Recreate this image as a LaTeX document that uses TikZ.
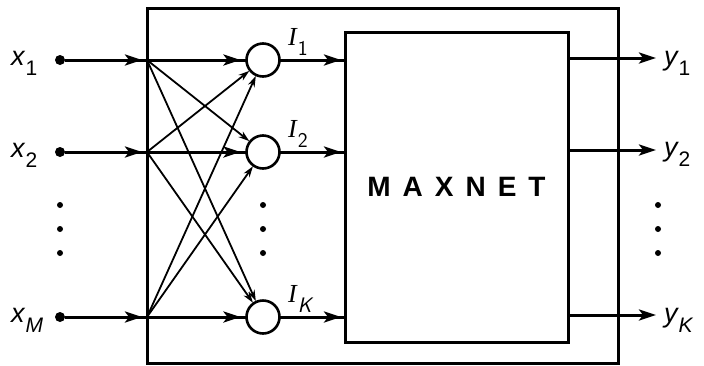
\documentclass[tikz,border=0pt]{standalone}
\usepackage{fontspec}
\setmainfont{Liberation Sans}
\newfontfamily\serifit{Liberation Serif}
\usetikzlibrary{arrows.meta}
\newcommand{\sbs}[1]{\hspace{1pt}\raisebox{-10pt}{\fontsize{21}{21}\selectfont #1}}
\begin{document}
\begin{tikzpicture}[x=1pt,y=-1pt,
  neuron/.style={draw, circle, line width=2.6pt, minimum size=33pt, inner sep=0pt, outer sep=0pt},
  box/.style={draw, line width=3pt, inner sep=0pt, outer sep=0pt, anchor=north west},
  src/.style={circle, fill, inner sep=0pt, minimum size=10pt},
  vdot/.style={circle, fill, inner sep=0pt, minimum size=6pt},
  main/.style={line width=3pt},
  tip/.style={line width=3pt, -{Stealth[length=17pt,width=11pt,inset=4pt]}},
  diag/.style={line width=1.8pt, -{Stealth[open,length=11pt,width=7pt]}, shorten >=1pt},
  lab/.style={font=\fontsize{27}{27}\selectfont\itshape, inner sep=0pt, anchor=base west},
  ilab/.style={font=\fontsize{26}{26}\selectfont\serifit\itshape, inner sep=0pt, anchor=base west},
]
\useasboundingbox (0,0) rectangle (704,365);
% boxes
\node[box, minimum width=471pt, minimum height=355pt] (outer) at (147,8) {};
\node[box, minimum width=223pt, minimum height=310pt] (maxnet) at (345,32)
  {\fontsize{28}{28}\selectfont\bfseries M\hspace{12pt}A\hspace{12pt}X\hspace{12pt}N\hspace{12pt}E\hspace{12pt}T};
% sources
\node[src] (d1) at (60,60) {};
\node[src] (d2) at (60,152) {};
\node[src] (dM) at (60,317) {};
\coordinate (j1) at (147,60);
\coordinate (j2) at (147,152);
\coordinate (jM) at (147,317);
% neurons
\node[neuron] (n1) at (263,60) {};
\node[neuron] (n2) at (263,152) {};
\node[neuron] (nK) at (263,317) {};
% labels
\node[lab] (lx1) at (11,65) {x\sbs{\upshape 1}};
\node[lab] (lx2) at (11,157) {x\sbs{\upshape 2}};
\node[lab] (lxM) at (11,322) {x\sbs{M}};
\node[ilab] (li1) at (288,45) {I\sbs{\sffamily\upshape 1}};
\node[ilab] (li2) at (288,137) {I\sbs{\sffamily\upshape 2}};
\node[ilab] (liK) at (288,302) {I\sbs{\sffamily K}};
\node[lab] (ly1) at (664,65) {y\sbs{\upshape 1}};
\node[lab] (ly2) at (664,156) {y\sbs{\upshape 2}};
\node[lab] (lyK) at (664,322) {y\sbs{K}};
% inputs
\foreach \d/\j in {d1/j1,d2/j2,dM/jM}{
  \draw[main] (\d) -- (\j);
  \draw[tip] (\d) -- ([xshift=-5pt]\j);
}
% straight to neurons
\foreach \j/\n in {j1/n1,j2/n2,jM/nK}{
  \draw[main] (\j) -- (\n);
  \draw[tip] (\j) -- ([xshift=-6pt]\n.west);
}
% cross connections
\draw[diag] (j1) -- (n2);
\draw[diag] (j1) -- (nK);
\draw[diag] (j2) -- (n1);
\draw[diag] (j2) -- (nK);
\draw[diag] (jM) -- (n1);
\draw[diag] (jM) -- (n2);
% neurons to MAXNET
\foreach \n/\m in {n1/m1,n2/m2,nK/mK}{
  \coordinate (\m) at (maxnet.west |- \n);
  \draw[main] (\n) -- (\m);
  \draw[tip] (\n) -- ([xshift=-4pt]\m);
}
% outputs
\coordinate (o1) at (maxnet.east |- 0,58);
\coordinate (o2) at (maxnet.east |- 0,150);
\coordinate (oK) at (maxnet.east |- 0,315);
\coordinate (e1) at (656,58);
\coordinate (e2) at (656,150);
\coordinate (eK) at (656,315);
\draw[tip] (o1) -- (e1);
\draw[tip] (o2) -- (e2);
\draw[tip] (oK) -- (eK);
% ellipses
\foreach \xx/\nm in {60/a,263/b,658/c}{
  \node[vdot] (\nm1) at (\xx,205) {};
  \node[vdot] (\nm2) at (\xx,229) {};
  \node[vdot] (\nm3) at (\xx,253) {};
}
\end{tikzpicture}
\end{document}
